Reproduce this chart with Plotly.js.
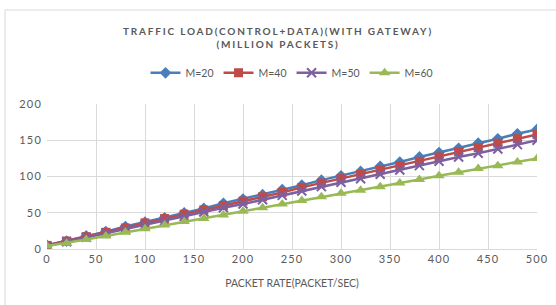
<!DOCTYPE html>
<html>
<head>
<meta charset="utf-8">
<script src="https://cdn.plot.ly/plotly-3.0.1.min.js"></script>
<style>
html,body{margin:0;padding:0;background:#fff;}
#chart{width:556px;height:305px;}
.gtitle{letter-spacing:1.8px;}
.xtick text,.ytick text{letter-spacing:1.2px;}
</style>
</head>
<body>
<div id="chart"></div>
<script>
const packetRate = [0,20,40,60,80,100,120,140,160,180,200,220,240,260,280,300,320,340,360,380,400,420,440,460,480,500];
const m20 = [5,11,18,24,31,37,43,50,56,63,69,75,82,88,95,101,107,114,120,127,133,139,146,152,159,165];
const m40 = [5,11,17,23,29,36,42,48,54,60,66,72,78,85,91,97,103,109,115,121,127,134,140,146,152,158];
const m50 = [4,10,16,22,27,33,39,45,51,57,62,68,74,80,86,92,97,103,109,115,121,127,132,138,144,150];
const m60 = [4,8,13,18,23,28,33,38,42,47,52,57,62,67,72,77,81,86,91,96,101,106,111,115,120,125];
const seriesNames = ['M=20','M=40','M=50','M=60'];
const seriesData = [m20,m40,m50,m60];
const colors = ['#4a7ebb','#be4b48','#7d60a0','#98b954'];
const symbols = ['diamond','square','x-thin-open','triangle-up'];
const sizes = [9,9,9,10];

const traces = seriesData.map((d,i)=>({
  x: packetRate, y: d, name: seriesNames[i], type:'scatter', mode:'lines+markers',
  line:{color:colors[i], width:2.5},
  marker:{symbol:symbols[i], size:sizes[i], color:colors[i], line:{color:colors[i], width: i===2?2:0}}
}));

const font = "Lato, 'Open Sans', sans-serif";
const layout = {
  width:556, height:305,
  margin:{l:47, r:19, t:104, b:56},
  paper_bgcolor:'#fff', plot_bgcolor:'#fff',
  font:{family:font, color:'#595959', size:11},
  title:{text:'<b>TRAFFIC LOAD(CONTROL+DATA)(WITH GATEWAY)<br>(MILLION PACKETS)</b>', x:0.5, xanchor:'center', y:0.885, yanchor:'middle', font:{family:font, size:10, color:'#595959'}},
  showlegend:true,
  legend:{orientation:'h', x:0.5, xanchor:'center', y:1.215, yanchor:'middle', font:{size:10.5, color:'#595959'}, itemwidth:30, tracegroupgap:0},
  xaxis:{range:[0,500], tick0:0, dtick:50, showgrid:true, gridcolor:'#d9d9d9', zeroline:false, showline:true, linecolor:'#d9d9d9', ticks:'', tickfont:{size:11, color:'#595959'},
    title:{text:'PACKET RATE(PACKET/SEC)', font:{size:10.5, color:'#595959'}, standoff:15}},
  yaxis:{range:[0,200], tick0:0, dtick:50, showgrid:true, gridcolor:'#d9d9d9', zeroline:false, showline:false, ticks:'', tickfont:{size:11, color:'#595959'}, ticklabelstandoff:4},
  shapes:[{type:'rect', xref:'paper', yref:'paper', x0:-42/490, x1:1.05, y0:-70/145, y1:(104-10)/145+1, line:{color:'#d9d9d9', width:1}, fillcolor:'rgba(0,0,0,0)'}]
};
Plotly.newPlot('chart', traces, layout, {displayModeBar:false, staticPlot:true});
</script>
</body>
</html>
